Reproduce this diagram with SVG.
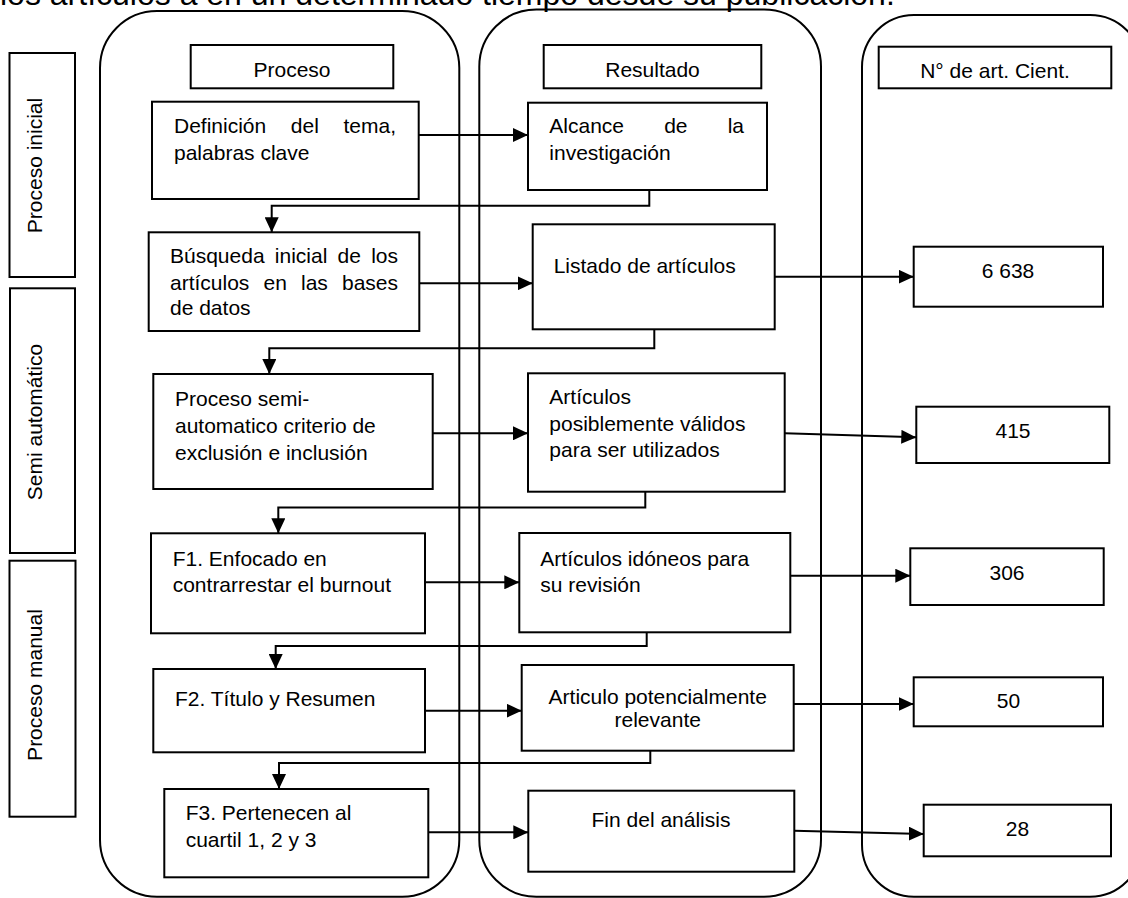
<svg xmlns="http://www.w3.org/2000/svg" width="1128" height="898" viewBox="0 0 1128 898">
<defs>
<style>
text{font-family:"Liberation Sans",Arial,sans-serif;font-size:21px;fill:#000}
.lane{fill:none;stroke:#000;stroke-width:2}
.box{fill:#fff;stroke:#000;stroke-width:2}
.c{fill:none;stroke:#000;stroke-width:2}
.m{text-anchor:middle}
.e{text-anchor:end}
</style>
<marker id="ah" markerUnits="userSpaceOnUse" markerWidth="15" markerHeight="14" refX="15" refY="7" orient="auto">
<path d="M0,0 L15,7 L0,14 z" fill="#000"/>
</marker>
</defs>
<rect width="1128" height="898" fill="#fff"/>
<text x="0" y="5" style="font-size:32px">los artículos a en un determinado tiempo desde su publicación.</text>

<g id="lanes">
<rect id="lane-proceso" class="lane" x="100" y="11" width="359.3" height="885.7" rx="57" ry="57"/>
<rect id="lane-resultado" class="lane" x="479.3" y="9.5" width="341.7" height="887.2" rx="57" ry="57"/>
<rect id="lane-numero" class="lane" x="862" y="15" width="280" height="881.7" rx="52" ry="52"/>
</g>

<g id="stage-labels">
<g id="lbl-inicial"><rect class="box" x="9.5" y="53" width="65.5" height="224"/><text class="m" transform="translate(42,165.5) rotate(-90)">Proceso inicial</text></g>
<g id="lbl-semi"><rect class="box" x="10" y="288.3" width="65" height="264.7"/><text class="m" transform="translate(42,422) rotate(-90)">Semi automático</text></g>
<g id="lbl-manual"><rect class="box" x="9.5" y="560.7" width="66" height="256"/><text class="m" transform="translate(42,685) rotate(-90)">Proceso manual</text></g>
</g>

<g id="connectors">
<line class="c" x1="418.7" y1="135" x2="528" y2="135" marker-end="url(#ah)"/>
<polyline class="c" points="649.3,190 649.3,205.7 271.7,205.7 271.7,232.3" marker-end="url(#ah)"/>
<line class="c" x1="419.3" y1="283.3" x2="532.7" y2="283.3" marker-end="url(#ah)"/>
<line class="c" x1="774.7" y1="276.7" x2="913.7" y2="276.7" marker-end="url(#ah)"/>
<polyline class="c" points="654.3,329.3 654.3,348.3 269.3,348.3 269.3,374" marker-end="url(#ah)"/>
<line class="c" x1="432.7" y1="433.3" x2="528" y2="433.3" marker-end="url(#ah)"/>
<line class="c" x1="784.7" y1="433.3" x2="916.3" y2="437.3" marker-end="url(#ah)"/>
<polyline class="c" points="645.3,491.7 645.3,507.5 278.3,507.5 278.3,533.3" marker-end="url(#ah)"/>
<line class="c" x1="425" y1="582.3" x2="519.3" y2="582.3" marker-end="url(#ah)"/>
<line class="c" x1="790.3" y1="575.7" x2="910.3" y2="575.7" marker-end="url(#ah)"/>
<polyline class="c" points="646.7,632.3 646.7,646 275.7,646 275.7,669" marker-end="url(#ah)"/>
<line class="c" x1="425" y1="710.7" x2="521.7" y2="710.7" marker-end="url(#ah)"/>
<line class="c" x1="793.7" y1="704" x2="913.7" y2="704" marker-end="url(#ah)"/>
<polyline class="c" points="650.3,750.7 650.3,763 279,763 279,789" marker-end="url(#ah)"/>
<line class="c" x1="428.3" y1="832.3" x2="528.3" y2="832.3" marker-end="url(#ah)"/>
<line class="c" x1="794.3" y1="830.7" x2="923.7" y2="834" marker-end="url(#ah)"/>
</g>

<g id="hdr-proceso"><rect class="box" x="190.7" y="45" width="202.6" height="43.3"/><text class="m" x="292" y="77">Proceso</text></g>
<g id="hdr-resultado"><rect class="box" x="543.7" y="45" width="217.6" height="43.3"/><text class="m" x="652.5" y="77">Resultado</text></g>
<g id="hdr-numero"><rect class="box" x="878.7" y="46.7" width="232.6" height="41.6"/><text class="m" x="995" y="77.5">N° de art. Cient.</text></g>

<g id="p-definicion"><rect class="box" x="152" y="101.7" width="266.7" height="97.3"/>
<text y="133"><tspan x="174">Definición</tspan><tspan x="290.8">del</tspan><tspan x="396" text-anchor="end">tema,</tspan></text>
<text x="174" y="160">palabras clave</text></g>

<g id="p-busqueda"><rect class="box" x="148.7" y="232.3" width="270.6" height="98.7"/>
<text y="263"><tspan x="170">Búsqueda</tspan><tspan x="274.8">inicial</tspan><tspan x="337.5">de</tspan><tspan x="398" text-anchor="end">los</tspan></text>
<text y="290"><tspan x="170">artículos</tspan><tspan x="263.5">en</tspan><tspan x="301">las</tspan><tspan x="398" text-anchor="end">bases</tspan></text>
<text x="170" y="315">de datos</text></g>

<g id="p-semi"><rect class="box" x="153.3" y="374" width="279.4" height="115"/>
<text x="175" y="406">Proceso semi-</text>
<text x="175" y="433">automatico criterio de</text>
<text x="175" y="460">exclusión e inclusión</text></g>

<g id="p-f1"><rect class="box" x="151" y="533.3" width="274" height="100"/>
<text x="172.7" y="566.3">F1. Enfocado en</text>
<text x="172.7" y="592.3">contrarrestar el burnout</text></g>

<g id="p-f2"><rect class="box" x="153.3" y="669" width="271.7" height="83.3"/>
<text x="175" y="706.3">F2. Título y Resumen</text></g>

<g id="p-f3"><rect class="box" x="164.3" y="789" width="264" height="88.3"/>
<text x="185.7" y="819.7">F3. Pertenecen al</text>
<text x="185.7" y="847.3">cuartil 1, 2 y 3</text></g>

<g id="r-alcance"><rect class="box" x="528" y="102.7" width="239" height="87.3"/>
<text y="133.3"><tspan x="549.3">Alcance</tspan><tspan x="664.2">de</tspan><tspan x="744" text-anchor="end">la</tspan></text>
<text x="549.3" y="160">investigación</text></g>

<g id="r-listado"><rect class="box" x="532.7" y="224.3" width="242" height="105"/>
<text x="553.7" y="272.7">Listado de artículos</text></g>

<g id="r-posibles"><rect class="box" x="528" y="373.3" width="256.7" height="118.4"/>
<text x="549.3" y="404.3">Artículos</text>
<text x="549.3" y="430.5">posiblemente válidos</text>
<text x="549.3" y="456.5">para ser utilizados</text></g>

<g id="r-idoneos"><rect class="box" x="519.3" y="533" width="271" height="99.3"/>
<text x="540.3" y="565.7">Artículos idóneos para</text>
<text x="540.3" y="592.3">su revisión</text></g>

<g id="r-relevante"><rect class="box" x="521.7" y="665" width="272" height="85.7"/>
<text class="m" x="657.7" y="704">Articulo potencialmente</text>
<text class="m" x="657.7" y="727.3">relevante</text></g>

<g id="r-fin"><rect class="box" x="528.3" y="790.7" width="266" height="81"/>
<text class="m" x="661" y="826.7">Fin del análisis</text></g>

<g id="n-6638"><rect class="box" x="913.7" y="246.7" width="189.3" height="60"/><text class="m" x="1008" y="278.3">6 638</text></g>
<g id="n-415"><rect class="box" x="916.3" y="406.7" width="193" height="56.3"/><text class="m" x="1013" y="438.3">415</text></g>
<g id="n-306"><rect class="box" x="910.3" y="548.3" width="193.4" height="56.7"/><text class="m" x="1007" y="579.7">306</text></g>
<g id="n-50"><rect class="box" x="913.7" y="677.3" width="189.3" height="49"/><text class="m" x="1008.5" y="708.3">50</text></g>
<g id="n-28"><rect class="box" x="923.7" y="804.7" width="187.3" height="51.6"/><text class="m" x="1017.5" y="836.3">28</text></g>
</svg>
